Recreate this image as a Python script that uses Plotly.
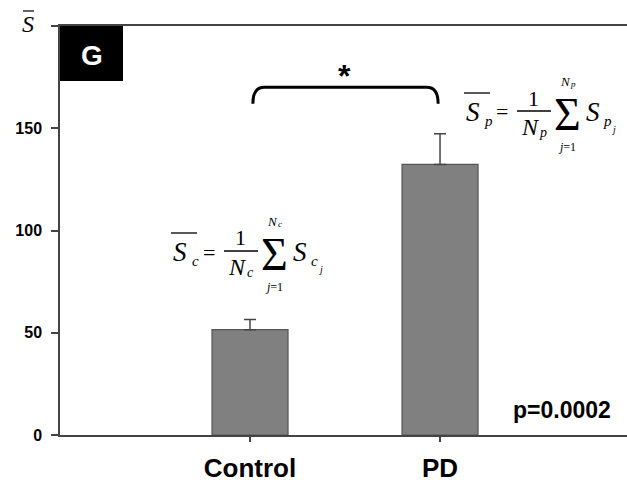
import plotly.graph_objects as go

# Group means and their upper error (SEM)
groups = ["Control", "PD"]
means = [51.5, 132.3]
errors = [5.0, 15.0]

y_ticks = [0, 50, 100, 150, 200]
y_tick_text = ["0", "50", "100", "150", ""]
p_text = "p=0.0002"
panel_letter = "G"
subscripts = ["c", "p"]

W_FIG, H_FIG = 627, 482
M_L, M_R, M_T, M_B = 60, 0, 26, 47
PW = W_FIG - M_L - M_R
PH = H_FIG - M_T - M_B


def px(x):
    return (x - M_L) / PW


def py(y):
    return (M_T + PH - y) / PH


SERIF = "Liberation Serif"
SANS = "Liberation Sans"

fig = go.Figure()
fig.add_trace(go.Bar(
    x=groups, y=means, width=0.4,
    marker=dict(color="#808080", line=dict(color="#555555", width=1.2)),
    error_y=dict(type="data", symmetric=False, array=errors, arrayminus=[0, 0],
                 color="#444444", thickness=1.5, width=6),
    showlegend=False,
))

annotations = []
shapes = []


def text(x, y, s, size, family=SERIF, color="black", bold=False):
    annotations.append(dict(
        x=px(x), y=py(y), xref="paper", yref="paper", text=s, showarrow=False,
        xanchor="center", yanchor="middle",
        font=dict(family=family, size=size, color=color,
                  weight="bold" if bold else "normal"),
    ))


def hline(x0, x1, y, width=1.3):
    shapes.append(dict(type="line", xref="paper", yref="paper",
                       x0=px(x0), x1=px(x1), y0=py(y), y1=py(y),
                       line=dict(color="black", width=width)))


def mean_formula(ex, ey, sub):
    # mean of S over N samples:  S̄ = 1/N Σ_{j=1}^{N} S_{sub_j}
    text(ex - 29, ey, "<i>S</i>", 27)
    text(ex - 14, ey + 9, f"<i>{sub}</i>", 15)
    hline(ex - 38, ex - 12, ey - 19)
    text(ex, ey, "=", 22)
    text(ex + 31, ey - 14, "1", 22)
    hline(ex + 15, ex + 49, ey - 1)
    text(ex + 28, ey + 15, "<i>N</i>", 24)
    text(ex + 41, ey + 20, f"<i>{sub}</i>", 14)
    text(ex + 65, ey + 2, "Σ", 46)
    text(ex + 63, ey - 31, "<i>N</i>", 13)
    text(ex + 71, ey - 28, f"<i>{sub}</i>", 9)
    text(ex + 65, ey + 35, "<i>j</i>=1", 12)
    text(ex + 91, ey, "<i>S</i>", 27)
    text(ex + 105, ey + 9, f"<i>{sub}</i>", 15)
    text(ex + 111, ey + 17, "<i>j</i>", 10)


mean_formula(209, 252, subscripts[0])
mean_formula(502, 112, subscripts[1])

# panel tag
shapes.append(dict(type="rect", xref="paper", yref="paper",
                   x0=px(60), x1=px(123), y0=py(81), y1=py(26),
                   fillcolor="black", line=dict(width=0)))
text(92, 55, panel_letter, 28, family=SANS, color="white", bold=True)

# y-axis title: S̄
text(28, 24, "<i>S</i>", 24)
hline(23, 34, 11, width=1.2)

# significance bracket between the two groups
a, b, y0, y1, dx = 0.015, 0.99, 162, 170, 0.06
shapes.append(dict(
    type="path", xref="x", yref="y",
    path=f"M {a},{y0} Q {a},{y1} {a + dx},{y1} L {b - dx},{y1} Q {b},{y1} {b},{y0}",
    line=dict(color="black", width=3),
))
text(344, 76, "*", 32, family=SANS, bold=True)

text(562, 410, p_text, 23, family=SANS, bold=True)

fig.update_layout(
    width=W_FIG, height=H_FIG,
    margin=dict(l=M_L, r=M_R, t=M_T, b=M_B),
    paper_bgcolor="white", plot_bgcolor="white",
    annotations=annotations, shapes=shapes,
    xaxis=dict(
        type="category", range=[-1, 1.984],
        showline=True, linecolor="#444444", linewidth=1.5, mirror=True,
        ticks="outside", ticklen=5, tickcolor="#444444", tickwidth=1.5,
        tickfont=dict(family=SANS, size=26, color="black", weight="bold"),
        ticklabelstandoff=4, showgrid=False, zeroline=False,
    ),
    yaxis=dict(
        range=[0, 200], tickmode="array", tickvals=y_ticks, ticktext=y_tick_text,
        showline=True, linecolor="#444444", linewidth=1.5,
        ticks="outside", ticklen=7, tickcolor="#444444", tickwidth=1.5,
        tickfont=dict(family=SANS, size=16, color="black", weight="bold"),
        ticklabelstandoff=6, showgrid=False, zeroline=False,
    ),
)

fig.write_html("out.html")
